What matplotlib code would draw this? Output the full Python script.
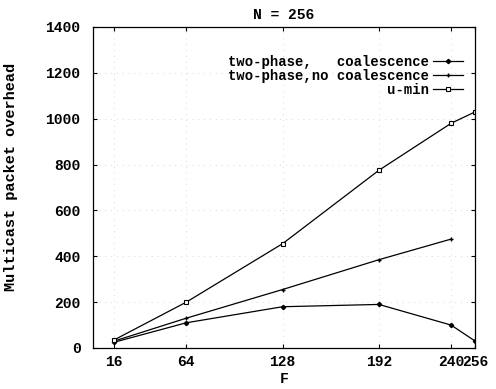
import matplotlib
matplotlib.use('Agg')
import matplotlib.pyplot as plt

# data
f_vals = [16, 64, 128, 192, 240, 256]
coalescence = [25, 110, 180, 190, 100, 30]
f_nocoal = [16, 64, 128, 192, 240]
no_coalescence = [30, 130, 255, 385, 475]
u_min = [35, 200, 455, 775, 980, 1030]

x_ticks = [16, 64, 128, 192, 240, 256]
y_ticks = [0, 200, 400, 600, 800, 1000, 1200, 1400]

plt.rcParams['font.family'] = ['Liberation Mono', 'DejaVu Sans Mono']
plt.rcParams['font.weight'] = 'bold'
fs = 10.5

fig = plt.figure(figsize=(4.96, 3.89), dpi=100)
ax = fig.add_axes([0.1875, 0.1054, 0.7705, 0.8252])

ax.plot(f_vals, coalescence, color='black', lw=0.9, marker='D', ms=2.2,
        label='two-phase,   coalescence')
ax.plot(f_nocoal, no_coalescence, color='black', lw=0.9, marker='+', ms=3.5,
        label='two-phase,no coalescence')
ax.plot(f_vals, u_min, color='black', lw=0.9, marker='s', ms=3,
        mfc='white', mew=0.8, label=' ' * 19 + 'u-min')

ax.set_xlim(2, 256)
ax.set_ylim(0, 1400)
ax.set_xticks(x_ticks)
ax.set_yticks(y_ticks)
ax.set_xticklabels([str(v) for v in x_ticks])
ax.tick_params(direction='in', top=True, right=True, length=3, width=0.8,
               labelsize=fs)
ax.tick_params(axis='x', pad=5)
ax.tick_params(axis='y', pad=9)
ax.grid(True, color='#cccccc', linestyle=(0, (1, 6)), linewidth=0.6)
for s in ax.spines.values():
    s.set_linewidth(0.9)

ax.set_title('N = 256', fontsize=fs, fontweight='bold', pad=6)
ax.set_xlabel('F', fontsize=fs, fontweight='bold', labelpad=2)
ax.set_ylabel('Multicast packet overhead', fontsize=11, fontweight='bold')
ax.yaxis.set_label_coords(-0.196, 0.533)

ax.legend(loc='upper right', bbox_to_anchor=(0.984, 0.93), borderaxespad=0,
          markerfirst=False, frameon=False, handlelength=2.2,
          handletextpad=0.3, labelspacing=0.0, fontsize=10)

fig.savefig('out.png', dpi=100)
